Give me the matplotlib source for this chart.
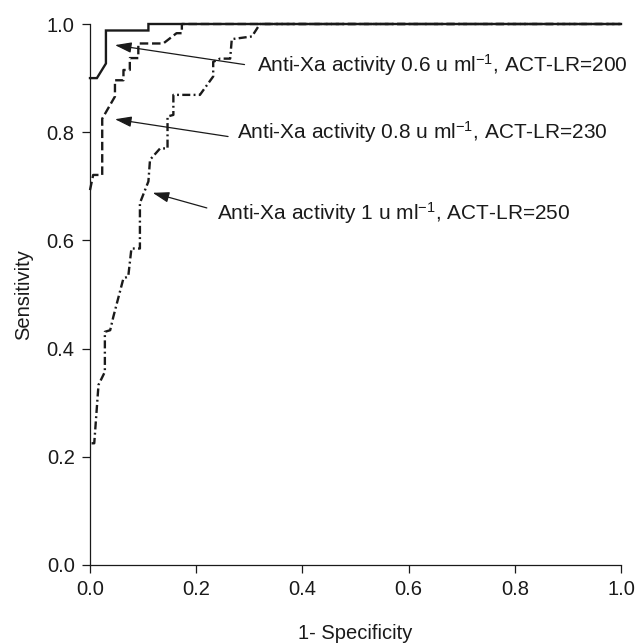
import matplotlib
matplotlib.use("Agg")
import matplotlib.pyplot as plt

plt.rcParams['font.family'] = ['Liberation Sans', 'DejaVu Sans']
plt.rcParams['mathtext.fontset'] = 'custom'
plt.rcParams['mathtext.rm'] = 'Liberation Sans'
plt.rcParams['mathtext.it'] = 'Liberation Sans'
plt.rcParams['mathtext.bf'] = 'Liberation Sans'

# ROC curve for anti-Xa 0.6 u/ml, ACT-LR=200 (solid)
fpr_06 = [0.0, 0.013, 0.030, 0.030, 0.110, 0.110, 1.0]
tpr_06 = [0.900, 0.900, 0.927, 0.988, 0.988, 1.0, 1.0]

# ROC curve for anti-Xa 0.8 u/ml, ACT-LR=230 (dashed)
fpr_08 = [0.0, 0.006, 0.023, 0.023, 0.047, 0.047, 0.063, 0.063, 0.075, 0.075,
          0.091, 0.091, 0.138, 0.163, 0.173, 0.173, 1.0]
tpr_08 = [0.693, 0.721, 0.721, 0.825, 0.866, 0.896, 0.896, 0.915, 0.915, 0.937,
          0.937, 0.964, 0.964, 0.983, 0.983, 1.0, 1.0]

# ROC curve for anti-Xa 1 u/ml, ACT-LR=250 (dash-dot)
fpr_10 = [0.003, 0.008, 0.016, 0.028, 0.028, 0.038, 0.044, 0.063, 0.072, 0.078,
          0.094, 0.094, 0.110, 0.113, 0.132, 0.146, 0.146, 0.157, 0.157, 0.207,
          0.232, 0.232, 0.245, 0.264, 0.267, 0.305, 0.320, 1.0]
tpr_10 = [0.225, 0.225, 0.333, 0.357, 0.431, 0.434, 0.459, 0.530, 0.533, 0.585,
          0.585, 0.669, 0.709, 0.749, 0.770, 0.770, 0.829, 0.832, 0.869, 0.869,
          0.903, 0.930, 0.936, 0.936, 0.972, 0.977, 1.0, 1.0]

labels = ["Anti-Xa activity 0.6 u ml$^{\u22121}$, ACT-LR=200",
          "Anti-Xa activity 0.8 u ml$^{\u22121}$, ACT-LR=230",
          "Anti-Xa activity 1 u ml$^{\u22121}$, ACT-LR=250"]
arrow_tips = [(0.047, 0.961), (0.047, 0.824), (0.118, 0.688)]
arrow_tails = [(0.291, 0.925), (0.260, 0.792), (0.220, 0.660)]
text_pos = [(0.3145, 0.924), (0.277, 0.801), (0.239, 0.651)]

xticks = [0.0, 0.2, 0.4, 0.6, 0.8, 1.0]
yticks = [0.0, 0.2, 0.4, 0.6, 0.8, 1.0]

fig = plt.figure(figsize=(6.38, 6.44), dpi=100)
ax = fig.add_axes([90/638, 1-565/644, (621-90)/638, (565-24)/644])

lw = 1.7
ax.plot(fpr_06, tpr_06, color='#1a1a1a', lw=lw, solid_joinstyle='miter', clip_on=False)
ax.plot(fpr_08, tpr_08, color='#1a1a1a', lw=lw, linestyle=(0, (3.6, 1.6)), clip_on=False)
ax.plot(fpr_10, tpr_10, color='#1a1a1a', lw=lw, linestyle=(0, (3.4, 1.4, 0.8, 1.4)), clip_on=False)

for lab, tip, tail, tp in zip(labels, arrow_tips, arrow_tails, text_pos):
    ax.annotate('', xy=tip, xytext=tail,
                arrowprops=dict(arrowstyle='-|>,head_length=1.0,head_width=0.32',
                                color='#1a1a1a', lw=0.9, shrinkA=0, shrinkB=0))
    ax.text(tp[0], tp[1], lab, fontsize=15, color='#1a1a1a', va='center', ha='left')

ax.set_xlim(0, 1)
ax.set_ylim(0, 1)
ax.set_xticks(xticks)
ax.set_yticks(yticks)
ax.set_xticklabels([f"{t:.1f}" for t in xticks])
ax.set_yticklabels([f"{t:.1f}" for t in yticks])
for s in ['top', 'right']:
    ax.spines[s].set_visible(False)
for s in ['left', 'bottom']:
    ax.spines[s].set_linewidth(0.9)
    ax.spines[s].set_color('#1a1a1a')
ax.tick_params(direction='out', length=6, width=0.9, labelsize=14.5, colors='#1a1a1a', pad=5)
ax.set_xlabel('1- Specificity', fontsize=14.5, labelpad=18, color='#1a1a1a')
ax.set_ylabel('Sensitivity', fontsize=14.5, labelpad=10, color='#1a1a1a')

fig.savefig('out.png', dpi=100)
